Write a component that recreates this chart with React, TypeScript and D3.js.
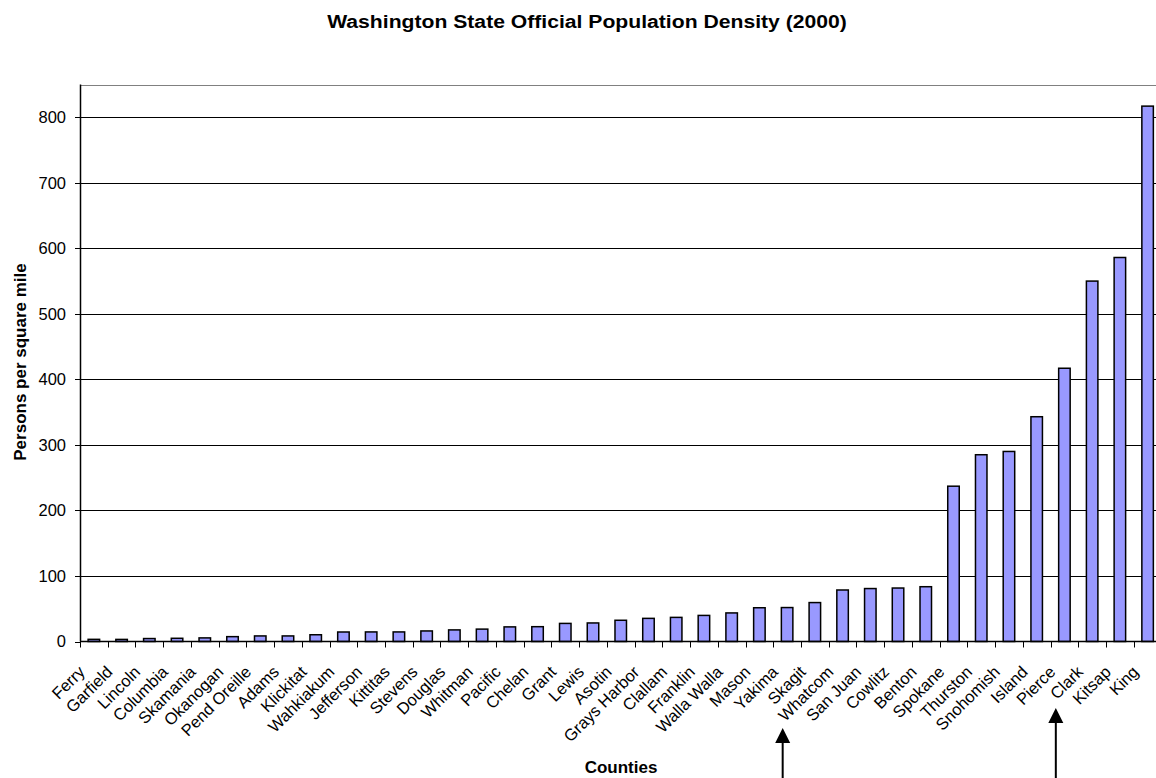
import React from "react";
import * as d3 from "d3";

const counties: string[] = [
  "Ferry", "Garfield", "Lincoln", "Columbia", "Skamania", "Okanogan", "Pend Oreille",
  "Adams", "Klickitat", "Wahkiakum", "Jefferson", "Kittitas", "Stevens", "Douglas",
  "Whitman", "Pacific", "Chelan", "Grant", "Lewis", "Asotin", "Grays Harbor", "Clallam",
  "Franklin", "Walla Walla", "Mason", "Yakima", "Skagit", "Whatcom", "San Juan", "Cowlitz",
  "Benton", "Spokane", "Thurston", "Snohomish", "Island", "Pierce", "Clark", "Kitsap", "King",
];

const density: number[] = [
  3.3, 3.2, 4.5, 4.9, 5.5, 7.4, 8.5, 8.5, 10.3, 14.5, 14.6, 14.6, 16.1, 17.7,
  18.9, 22.3, 22.6, 27.6, 28.3, 32.4, 35.3, 36.8, 39.8, 43.6, 51.5, 51.8, 59.4, 78.6,
  80.8, 81.6, 83.6, 237, 285, 290, 343, 417, 550, 586, 817,
];

const yTicks: number[] = [0, 100, 200, 300, 400, 500, 600, 700, 800];

// annotation arrows: category and fraction of the category slot
const arrowCats: string[] = ["Yakima", "Pierce"];
const arrowFrac: number[] = [0.34, 0.19];
const arrowTip: number[] = [728, 708];

const W = 1156;
const H = 778;
const left = 80;
const step = 27.73;
const right = left + step * counties.length;
const top = 84.5;
const zeroY = 641.5;

export default function App() {
  const x = d3.scaleBand<string>().domain(counties).range([left, right]).paddingInner(0).paddingOuter(0);
  const y = d3.scaleLinear().domain([0, 850]).range([zeroY, top]);
  const bw = x.bandwidth();
  const barW = 11.5;
  const font = "'Liberation Sans', Arial, Helvetica, sans-serif";
  const r = (v: number) => Math.round(v) + 0.5;

  return (
    <svg width={W} height={H} style={{ position: "absolute", left: 0, top: 0, background: "#fff" }} fontFamily={font}>
      <rect x={0} y={0} width={W} height={H} fill="#fff" />
      <text transform="translate(587,28) scale(1.15,1)" textAnchor="middle" fontSize={18.4} fontWeight="bold">
        Washington State Official Population Density (2000)
      </text>
      {/* plot border top */}
      <line x1={left} x2={W} y1={r(top)} y2={r(top)} stroke="#808080" strokeWidth={1} />
      {/* gridlines */}
      {yTicks.filter((t) => t > 0).map((t) => (
        <line key={t} x1={left} x2={W} y1={r(y(t))} y2={r(y(t))} stroke="#000" strokeWidth={1} />
      ))}
      {/* y ticks & labels */}
      {yTicks.map((t) => (
        <g key={"yt" + t}>
          <line x1={left - 5} x2={left} y1={r(y(t))} y2={r(y(t))} stroke="#000" strokeWidth={1} />
          <text x={66} y={y(t)} dy="0.36em" textAnchor="end" fontSize={16.5} fill="#000">
            {t}
          </text>
        </g>
      ))}
      {/* bars */}
      {counties.map((c, i) => (
        <rect
          key={c}
          x={(x(c) as number) + bw / 2 - barW / 2}
          y={y(density[i])}
          width={barW}
          height={zeroY - y(density[i])}
          fill="#9999FF"
          stroke="#000"
          strokeWidth={1.5}
        />
      ))}
      {/* axes */}
      <line x1={r(left)} x2={r(left)} y1={top} y2={zeroY} stroke="#000" strokeWidth={1.5} />
      <line x1={left} x2={W} y1={zeroY} y2={zeroY} stroke="#000" strokeWidth={1.5} />
      {counties.map((c, i) => (
        <line key={"xt" + c} x1={r(left + i * step)} x2={r(left + i * step)} y1={zeroY} y2={zeroY + 6} stroke="#000" strokeWidth={1} />
      ))}
      {/* category labels */}
      {counties.map((c) => {
        const cx = (x(c) as number) + bw / 2;
        return (
          <text
            key={"lb" + c}
            transform={`translate(${cx - 8},${673}) rotate(-45)`}
            textAnchor="end"
            fontSize={16.5}
            fill="#000"
          >
            {c}
          </text>
        );
      })}
      {/* axis titles */}
      <text x={621} y={773} textAnchor="middle" fontSize={17} fontWeight="bold">
        Counties
      </text>
      <text transform={`translate(26,362) rotate(-90)`} textAnchor="middle" fontSize={17} fontWeight="bold">
        Persons per square mile
      </text>
      {/* annotation arrows */}
      {arrowCats.map((c, i) => {
        const ax = (x(c) as number) + step * arrowFrac[i];
        const tip = arrowTip[i];
        return (
          <g key={"ar" + c}>
            <line x1={ax} x2={ax} y1={tip + 12} y2={H} stroke="#000" strokeWidth={2} />
            <path d={`M${ax},${tip} L${ax - 7.5},${tip + 15} L${ax + 7.5},${tip + 15} Z`} fill="#000" />
          </g>
        );
      })}
    </svg>
  );
}
